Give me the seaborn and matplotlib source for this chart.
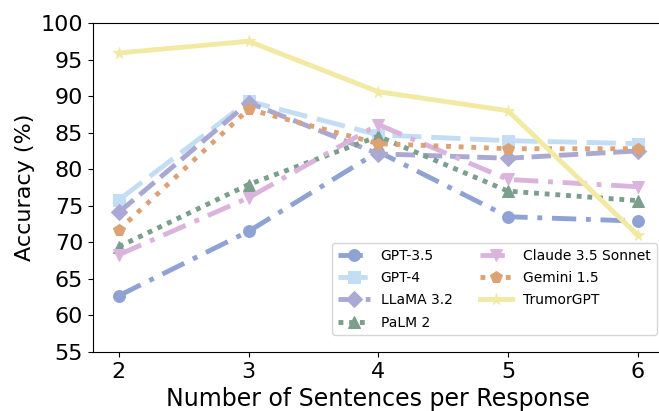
import matplotlib
matplotlib.use("Agg")
import matplotlib.pyplot as plt
import seaborn as sns
import pandas as pd

sentences = [2, 3, 4, 5, 6]

gpt35 = [62.7, 71.5, 82.4, 73.5, 72.9]
gpt4 = [75.8, 89.3, 84.7, 83.9, 83.5]
llama = [74.1, 89.1, 82.1, 81.5, 82.5]
palm = [69.4, 77.9, 84.5, 77.0, 75.7]
claude = [68.3, 76.1, 86.1, 78.6, 77.6]
gemini = [71.7, 88.2, 83.5, 82.8, 82.8]
trumor = [95.9, 97.5, 90.6, 88.0, 71.0]

models = ['GPT-3.5', 'GPT-4', 'LLaMA 3.2', 'PaLM 2',
          'Claude 3.5 Sonnet', 'Gemini 1.5', 'TrumorGPT']
values = [gpt35, gpt4, llama, palm, claude, gemini, trumor]
colors = ['#8ea2d3', '#c3ddf4', '#aaa9d3', '#7c9e8d',
          '#dab4dc', '#dda274', '#f2e9a2']
markers = ['o', 's', 'D', '^', 'v', 'p', '*']
styles = [(0, (5, 2, 1, 2)), (0, (6, 2)), (0, (4, 1.6)), (0, (1, 1.2)),
          (0, (5, 2, 1, 2)), (0, (1, 1.6)), '-']

fig = plt.figure(figsize=(6.59, 4.11), dpi=100)
ax = fig.add_axes([0.141, 0.1436, 0.866, 0.8005])

for name, vals, c, m, ls in zip(models, values, colors, markers, styles):
    df = pd.DataFrame({'x': sentences, 'y': vals})
    sns.lineplot(data=df, x='x', y='y', ax=ax, color=c, marker=m,
                 linestyle=ls, linewidth=3.5, markersize=8.5,
                 markeredgecolor=c, label=name)

ax.set_ylim(55, 100)
ax.set_xlim(1.8, 6.2)
ax.set_xticks(sentences)
ax.set_yticks(range(55, 101, 5))
ax.tick_params(labelsize=16)
ax.set_xlabel('Number of Sentences per Response', fontsize=17)
ax.set_ylabel('Accuracy (%)', fontsize=16)
ax.legend(ncol=2, loc='lower right', fontsize=10, handlelength=2.3,
          labelspacing=0.6, bbox_to_anchor=(1.0, 0.03))

fig.savefig('out.png', dpi=100)
